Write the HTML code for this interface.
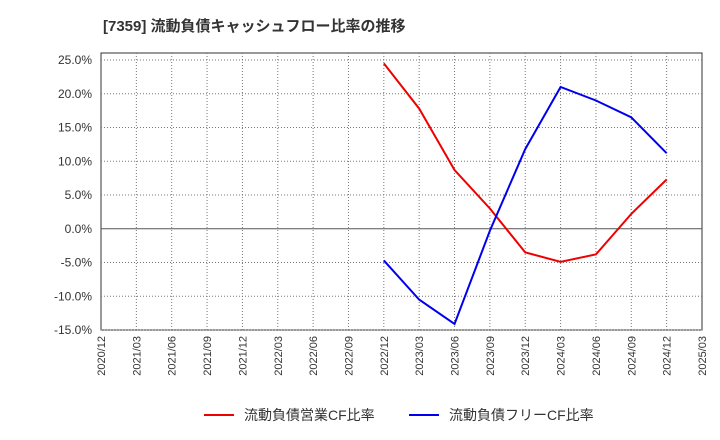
<!DOCTYPE html>
<html><head><meta charset="utf-8">
<style>
body{margin:0;background:#fff;}
svg{display:block;font-family:"Liberation Sans","Noto Sans CJK JP",sans-serif;}
</style></head>
<body>
<svg id="chart" width="720" height="440" viewBox="0 0 720 440" xmlns="http://www.w3.org/2000/svg">
<text x="103" y="31" font-size="15" font-weight="bold" fill="#333">[7359]  流動負債キャッシュフロー比率の推移</text>
<rect x="101" y="53" width="601" height="277" fill="#fff" stroke="#333" stroke-width="1"/>
<g id="grid"></g>
<g id="yaxis"></g>
<g id="xaxis"></g>
<g id="series"></g>
<g>
<line x1="204" y1="415" x2="234" y2="415" stroke="#e00" stroke-width="2"/>
<text x="244" y="420" font-size="14" fill="#333">流動負債営業CF比率</text>
<line x1="409" y1="415" x2="439" y2="415" stroke="#00e" stroke-width="2"/>
<text x="449" y="420" font-size="14" fill="#333">流動負債フリーCF比率</text>
</g>
</svg>
<script>
const xLabels=["2020/12","2021/03","2021/06","2021/09","2021/12","2022/03","2022/06","2022/09","2022/12","2023/03","2023/06","2023/09","2023/12","2024/03","2024/06","2024/09","2024/12","2025/03"];
const yTicks=[25,20,15,10,5,0,-5,-10,-15];
const seriesDates=["2022/12","2023/03","2023/06","2023/09","2023/12","2024/03","2024/06","2024/09","2024/12"];
const operatingCF=[24.5,17.8,8.7,3.0,-3.5,-4.9,-3.8,2.2,7.3];
const freeCF=[-4.7,-10.5,-14.1,-0.3,11.8,21.0,19.0,16.5,11.2];
const NS="http://www.w3.org/2000/svg";
const X0=101,X1=702;
function xs(label){return X0+xLabels.indexOf(label)*(X1-X0)/(xLabels.length-1);}
function ys(v){return 228.75-v*6.75;}
function mk(tag,attrs,parent,text){const e=document.createElementNS(NS,tag);for(const k in attrs)e.setAttribute(k,attrs[k]);if(text!==undefined)e.textContent=text;parent.appendChild(e);return e;}
const grid=document.getElementById('grid'),ya=document.getElementById('yaxis'),xa=document.getElementById('xaxis'),se=document.getElementById('series');
yTicks.forEach(v=>{
 const y=ys(v);
 const l=mk('line',{x1:X0,x2:X1,y1:y,y2:y,stroke:v===0?'#555':'#777','stroke-width':1,'stroke-dasharray':v===0?'':'1,2'},grid);
 
 
 const t=mk('text',{x:92,y:y+4,'text-anchor':'end','font-size':12,fill:'#333'},ya,v.toFixed(1)+'%');
 
 
});
xLabels.forEach((lab,i)=>{
 const x=xs(lab);
 if(i>0&&i<xLabels.length-1){
  const l=mk('line',{x1:x,x2:x,y1:53,y2:330,stroke:'#777','stroke-width':1,'stroke-dasharray':'1,2'},grid);
  
  
 }
 const t=mk('text',{x:0,y:0,'font-size':11,fill:'#333','text-anchor':'end',transform:`translate(${x+4},336) rotate(-90)`},xa,lab);
 
 
});
function drawLine(vals,color,name){
 const pts=vals.map((v,i)=>xs(seriesDates[i])+','+ys(v)).join(' ');
 const p=mk('polyline',{points:pts,fill:'none',stroke:color,'stroke-width':2},se);
 
 
}
drawLine(operatingCF,'#e00','operating-cf-line');
drawLine(freeCF,'#00e','free-cf-line');
</script>
</body></html>
